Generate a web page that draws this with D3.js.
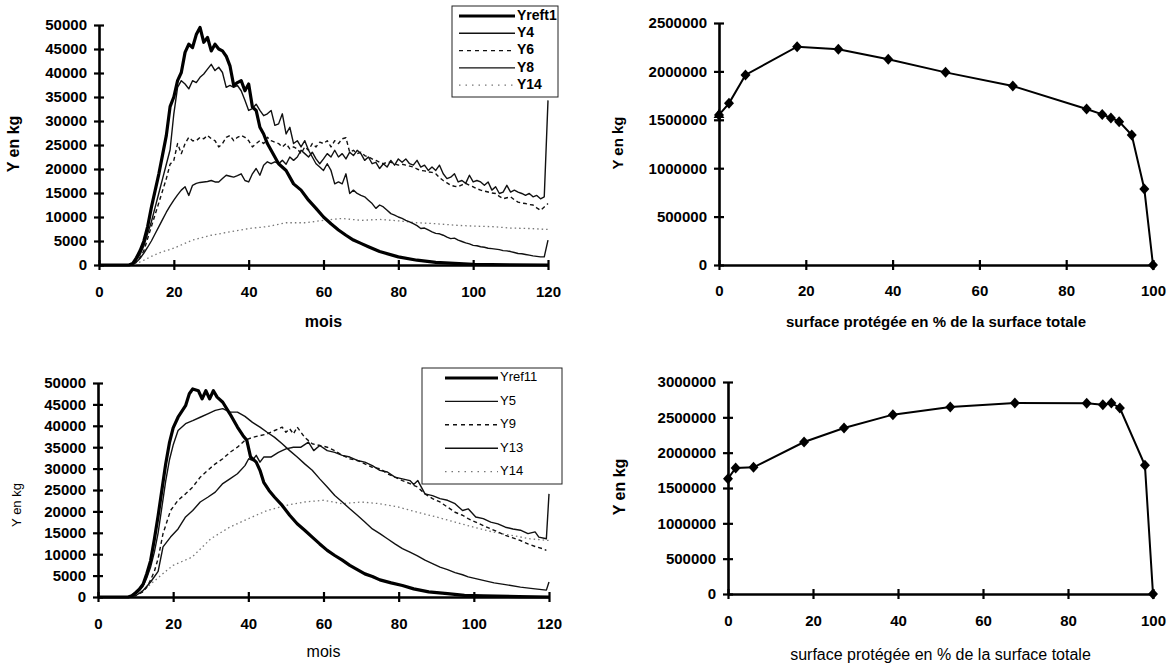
<!DOCTYPE html>
<html lang="fr">
<meta charset="UTF-8">
<style>
    body{ margin:0; background:#fff; }
    svg text{ font-family:'Liberation Sans', Arial, sans-serif; fill:#000; }
    .axis path, .axis line{ stroke:#000; }
    .axis text{ font-size:15px; font-weight:bold; }
</style>
<body>
<div id="chart"></div>
<script src="https://cdn.jsdelivr.net/npm/d3@7"></script>
<script>
    var width = 1172, height = 667;

    // ---- data ----
    var monthTicks = [0, 20, 40, 60, 80, 100, 120];
    var kgTicks = [0, 5000, 10000, 15000, 20000, 25000, 30000, 35000, 40000, 45000, 50000];
    var pctTicks = [0, 20, 40, 60, 80, 100];
    var yTicksTop = [0, 500000, 1000000, 1500000, 2000000, 2500000];
    var yTicksBottom = [0, 500000, 1000000, 1500000, 2000000, 2500000, 3000000];

    var legendTop = ["Yreft1", "Y4", "Y6", "Y8", "Y14"];
    var legendBottom = ["Yref11", "Y5", "Y9", "Y13", "Y14"];

    // top-left panel, [mois, kg]
    var yreft1 = [[0,0],[8,0],[9,300],[10,1500],[11,3000],[12,5000],[13,8000],[14,12000],[15,15500],[16,19000],[17,23000],[18,27000],[19,33000],[20,35000],[21,38400],[22,40100],[23,44300],[24,46000],[25,45300],[26,48000],[27,49500],[28,46400],[29,47400],[30,44600],[31,46000],[32,45000],[33,44600],[34,43500],[35,41500],[36,37400],[37,38000],[38,38400],[39,36300],[40,37700],[41,32900],[42,32200],[43,28700],[44,27300],[45,25300],[46,23900],[47,22500],[48,21100],[50,19700],[52,16900],[54,15600],[56,13500],[58,11800],[60,10000],[62,8600],[64,7300],[66,6200],[68,5200],[70,4500],[72,3800],[75,2800],[80,1700],[85,1000],[90,550],[95,350],[100,150],[110,50],[120,0]];
    var y4 = [[0,0],[8,0],[9,200],[10,1000],[11,2200],[12,4000],[13,6500],[14,9000],[15,12000],[16,15000],[17,18000],[18,21000],[19,24000],[20,31500],[21,37000],[22,38400],[23,37700],[24,36700],[25,38400],[26,38000],[27,39100],[28,39800],[29,40800],[30,41800],[31,40500],[32,41200],[33,40100],[34,37000],[35,37400],[36,37000],[37,37400],[38,36300],[39,34300],[40,32200],[41,32600],[42,33500],[43,32200],[44,31100],[45,31500],[46,32200],[47,29100],[48,29400],[49,31500],[50,27300],[51,28700],[52,25300],[53,25900],[54,24600],[55,25900],[56,23900],[57,22500],[58,21100],[59,20400],[60,19700],[61,21100],[62,19700],[63,16900],[64,17300],[65,16900],[66,19000],[67,14900],[68,15600],[69,14900],[70,14500],[71,14200],[72,13500],[73,12800],[74,11800],[75,12500],[76,12100],[77,11400],[78,10700],[79,10400],[80,10000],[81,9700],[82,9300],[83,9000],[84,8600],[85,8200],[86,7600],[87,7700],[88,7300],[89,6900],[90,6600],[91,6500],[92,6200],[93,5800],[94,5500],[95,5600],[96,5200],[97,4900],[98,4600],[99,4400],[100,4100],[101,4000],[102,3800],[103,3700],[104,3500],[105,3400],[106,3300],[107,3200],[108,3000],[109,2950],[110,2800],[111,2600],[112,2400],[113,2350],[114,2200],[115,2050],[116,1900],[117,1800],[118,1700],[119,1700],[120,5200]];
    var y6 = [[0,0],[8,0],[9,150],[10,700],[11,1600],[12,3000],[13,5500],[14,8000],[15,10500],[16,13000],[17,15500],[18,18000],[19,21000],[20,21800],[21,25300],[22,23200],[23,25300],[24,26600],[25,25900],[26,25900],[27,26600],[28,26300],[29,27000],[30,26300],[31,25900],[32,24600],[33,25300],[34,26600],[35,27000],[36,25900],[37,26600],[38,27000],[39,26600],[40,25900],[41,24600],[42,25300],[43,25900],[44,25300],[45,26600],[46,25900],[47,25600],[48,25300],[49,24600],[50,25300],[51,24200],[52,24600],[53,24200],[54,23200],[55,24600],[56,23900],[57,25300],[58,24600],[59,25600],[60,25300],[61,25900],[62,24600],[63,25900],[64,25300],[65,26300],[66,26500],[67,23500],[68,23900],[69,23200],[70,23500],[71,22800],[72,22500],[73,22100],[74,21800],[75,21400],[76,21100],[77,21400],[78,21400],[79,21100],[80,20800],[81,21000],[82,20800],[83,20600],[84,20400],[85,20000],[86,19700],[87,19600],[88,19400],[89,19300],[90,19000],[91,18200],[92,17600],[93,17100],[94,16600],[95,16400],[96,16300],[97,16700],[98,17000],[99,16600],[100,16300],[101,15900],[102,15600],[103,15400],[104,15200],[105,15000],[106,14900],[107,14300],[108,13800],[109,14000],[110,14200],[111,13600],[112,13100],[113,12900],[114,12800],[115,12600],[116,12500],[117,11900],[118,11400],[119,12100],[120,12800]];
    var y8 = [[0,0],[8,0],[9,150],[10,600],[11,1400],[12,2500],[13,3700],[14,5000],[15,6500],[16,8000],[17,9500],[18,11000],[19,12300],[20,13500],[21,14600],[22,15600],[23,16300],[24,14500],[25,16600],[26,17000],[27,17200],[28,17300],[29,17400],[30,17600],[31,17300],[32,17300],[33,18000],[34,18700],[35,18500],[36,18300],[37,18600],[38,19000],[39,17600],[40,17300],[41,19000],[42,20100],[43,18700],[44,20800],[45,21500],[46,21100],[47,21500],[48,21100],[49,21800],[50,21000],[51,22500],[52,21800],[53,22500],[54,23900],[55,23200],[56,22500],[57,23500],[58,22100],[59,21100],[60,22100],[61,23200],[62,22500],[63,23900],[64,22500],[65,23200],[66,22100],[67,23500],[68,22800],[69,23900],[70,23200],[71,21800],[72,22500],[73,21100],[74,21400],[75,20100],[76,21100],[77,20400],[78,21800],[79,20800],[80,22100],[81,21400],[82,22100],[83,21100],[84,20800],[85,21800],[86,20400],[87,20800],[88,19700],[89,20400],[90,19700],[91,20800],[92,19000],[93,18000],[94,18300],[95,19000],[96,17300],[97,17600],[98,17000],[99,18700],[100,17300],[101,17600],[102,17300],[103,16600],[104,17300],[105,15600],[106,16300],[107,14900],[108,15200],[109,16600],[110,15200],[111,15600],[112,15200],[113,14900],[114,14500],[115,14900],[116,14200],[117,14500],[118,13800],[119,14200],[120,34300]];
    var y14a = [[0,0],[8,0],[10,300],[12,1000],[14,1800],[16,2500],[18,3000],[20,3500],[25,5200],[30,6200],[35,6900],[40,7600],[45,8000],[50,8800],[55,8800],[60,9300],[65,9700],[70,9300],[75,9500],[80,9200],[85,8800],[90,8600],[95,8300],[100,8100],[105,8000],[110,7700],[115,7600],[120,7400]];

    // bottom-left panel, [mois, kg]
    var yref11 = [[0,0],[8,0],[9,300],[10,1000],[11,1800],[12,3000],[13,5500],[14,8500],[15,13500],[16,19000],[17,25000],[18,31000],[19,36000],[20,39500],[21.3,42000],[23.3,44700],[24.3,47500],[25.2,48600],[26.7,48200],[27.7,46300],[28.7,48200],[29.7,46300],[30.7,48200],[31.7,46700],[33.2,45500],[35.1,42800],[37.1,39700],[38.6,37700],[39.6,36600],[40.6,32700],[42.1,31500],[43.1,29600],[44.1,26800],[45.5,24900],[47,23300],[49,21400],[51,19100],[53,17100],[55,15600],[57,14000],[59,12400],[61,10900],[63,9700],[65,8600],[67,7400],[69,6400],[71,5400],[73,4800],[75,4000],[78,3300],[81,2700],[84,1900],[88,1200],[93,800],[97.5,400],[102.5,250],[112,100],[120,0]];
    var y5 = [[0,0],[8,0],[9,200],[10,700],[11,1500],[12,2500],[13,4500],[14,7000],[15,10500],[16,15000],[17,21000],[18,27000],[19,32000],[20,35500],[21.3,38900],[23.3,40500],[25.2,41200],[27.2,42000],[29.2,42800],[31.2,43600],[33.2,44000],[35.1,43200],[37.1,43200],[39.1,42200],[41.1,40800],[43.1,39700],[45,38500],[47,37300],[49,35800],[51,34200],[53,32700],[55,31100],[57,29600],[59,27600],[61,25700],[63,23700],[65,22200],[67,20600],[69,19100],[71,17500],[73,15900],[75,14800],[77,13600],[79,12400],[81,11300],[83,10500],[85,9600],[87,8600],[89,7800],[91,7000],[93,6400],[95,5700],[97,5200],[98.5,4700],[100.5,4300],[102.5,3900],[105.4,3300],[108.4,2900],[112.4,2300],[116.3,1900],[119.3,1600],[120,3500]];
    var y9 = [[0,0],[8,0],[10,300],[12,1200],[13,2300],[14,4000],[15,6000],[16,9000],[17.3,14800],[19.3,20200],[21.3,22600],[23.3,24100],[25.2,25700],[27.2,28000],[29.2,29600],[31.2,31100],[33.2,32300],[35.1,33800],[37.1,35000],[39.1,36600],[41.1,37300],[43.1,37700],[45,38100],[47,38900],[49,39700],[50,38500],[51,39300],[52,38100],[53,39700],[55,37300],[57,35800],[59,35400],[61,35000],[63,34200],[65,33100],[67,32300],[69,31900],[71,31100],[73,30300],[75,30000],[77,28800],[79,28000],[81,27200],[83,26500],[85,25700],[87,24100],[89,23000],[91,22200],[93,21000],[95,19800],[97,19100],[98.5,18300],[100.5,17500],[102.5,16700],[104.5,15900],[106.4,15200],[108.4,14400],[110.4,13800],[112.4,13200],[114.4,12400],[116.3,11800],[118.3,11300],[119.3,10900]];
    var y13 = [[0,0],[8,0],[10,300],[12,1500],[14,3500],[16,6000],[17.3,11700],[19.3,14000],[21.3,15900],[23.3,18700],[25.2,20200],[27.2,22200],[29.2,23300],[31.2,24500],[33.2,26500],[35.1,27600],[37.1,28800],[39.1,30700],[40.1,32300],[41.1,31900],[42.1,33100],[43.1,31500],[44.1,32700],[46,32700],[48,33800],[50,34600],[52,35000],[54,35000],[56,36200],[57.4,34200],[59,35400],[61,34200],[63,33800],[65,33100],[67,32700],[69,31900],[71,31500],[73,30700],[75,29600],[77,29200],[79,28000],[81,27600],[83,27200],[84,26300],[85.1,27200],[87,24100],[89,23700],[91,23000],[93,22600],[95,21800],[97,20200],[98.5,20600],[100.5,18700],[102.5,18300],[104.5,17500],[106.4,17100],[108.4,16300],[110.4,15900],[112.4,15600],[114.4,14800],[116.3,15200],[117.3,14000],[119.3,13600],[120,24100]];
    var y14b = [[0,0],[8,0],[10,500],[12,1500],[14,3000],[16,4500],[18,6000],[20,7400],[25,9300],[30,13600],[35,16300],[40,18300],[45,20200],[50,21400],[55,22200],[60,22600],[65,21800],[70,22200],[75,21800],[80,21000],[85,19800],[90,18700],[95,17500],[100,16300],[105,15200],[110,14400],[115,13600],[120,13200]];

    // right panels: surface protégée (%) and Y (kg)
    var pctTop = [0, 2.3, 6.1, 18.0, 27.5, 39.0, 52.2, 67.7, 84.7, 88.3, 90.3, 92.2, 95.1, 98.0, 100];
    var yTop = [1550000, 1670000, 1963000, 2255000, 2228000, 2125000, 1990000, 1849000, 1612000, 1556000, 1519000, 1481000, 1343000, 785000, 0];
    var pctBottom = [0, 1.8, 6.0, 17.9, 27.3, 38.8, 52.3, 67.5, 84.4, 88.2, 90.2, 92.2, 98.1, 100];
    var yBottom = [1632000, 1783000, 1792000, 2151000, 2349000, 2538000, 2646000, 2703000, 2698000, 2679000, 2703000, 2632000, 1821000, 0];

    var svg = d3.select("#chart").append("svg")
        .attr("width", width)
        .attr("height", height);

    // line styles, in legend order
    var styles = [
        {w: 3.2, dash: null, color: "#000"},
        {w: 1.4, dash: null, color: "#111"},
        {w: 1.4, dash: "4,3", color: "#111"},
        {w: 1.4, dash: null, color: "#111"},
        {w: 1.3, dash: "1.5,3", color: "#777"}
    ];

    function crossTicks(g, horizontal) {
        g.select(".domain").attr("stroke-width", 2.6);
        g.selectAll(".tick line").attr("stroke-width", 2.2)
            .each(function(){
                if (horizontal) d3.select(this).attr("y1", -5).attr("y2", 5);
                else d3.select(this).attr("x1", 5).attr("x2", -5);
            });
    }

    function drawAxes(p) {
        var g = svg.append("g");
        var gx = g.append("g").attr("class", "axis")
            .attr("transform", "translate(0," + p.y.range()[0] + ")")
            .call(d3.axisBottom(p.x).tickValues(p.xTicks).tickSizeInner(5).tickSizeOuter(0).tickPadding(p.xPad));
        crossTicks(gx, true);
        var gy = g.append("g").attr("class", "axis")
            .attr("transform", "translate(" + p.x.range()[0] + ",0)")
            .call(d3.axisLeft(p.y).tickValues(p.yTicks).tickSizeInner(5).tickSizeOuter(0).tickPadding(7).tickFormat(d3.format("d")));
        crossTicks(gy, false);
        g.selectAll(".axis text").attr("fill", "#000");

        g.append("text")
            .attr("x", d3.mean(p.x.range()))
            .attr("y", p.xTitleY)
            .attr("text-anchor", "middle")
            .attr("dominant-baseline", "middle")
            .style("font-size", p.xTitleSize + "px")
            .style("font-weight", p.xTitleBold ? "bold" : "normal")
            .text(p.xTitle);

        g.append("text")
            .attr("transform", "translate(" + p.yTitleX + "," + p.yTitleY + ") rotate(-90)")
            .attr("text-anchor", "middle")
            .attr("dominant-baseline", "middle")
            .style("font-size", p.yTitleSize + "px")
            .style("font-weight", p.yTitleBold ? "bold" : "normal")
            .text("Y en kg");
    }

    function timePanel(p) {
        p.x = d3.scaleLinear().domain([0, 120]).range([p.x0, p.x1]);
        p.y = d3.scaleLinear().domain([0, 50000]).range([p.y0, p.y1]);
        p.xTicks = monthTicks;
        p.yTicks = kgTicks;
        p.xTitle = "mois";
        drawAxes(p);

        var line = d3.line()
            .x(function(d){ return p.x(d[0]); })
            .y(function(d){ return p.y(d[1]); });

        // draw the dotted one first, the thick reference last
        [4, 3, 2, 1, 0].forEach(function(i){
            svg.append("path")
                .datum(p.series[i])
                .attr("fill", "none")
                .attr("stroke", styles[i].color)
                .attr("stroke-width", styles[i].w)
                .attr("stroke-dasharray", styles[i].dash)
                .attr("stroke-linejoin", "round")
                .attr("d", line);
        });

        // legend
        var lg = svg.append("g");
        lg.append("rect")
            .attr("x", p.lx).attr("y", p.ly)
            .attr("width", p.lw).attr("height", p.lh)
            .attr("fill", "#fff")
            .attr("stroke", "#222")
            .attr("stroke-width", 1);
        var item = lg.selectAll("g.item")
            .data(p.labels)
            .enter().append("g")
            .attr("class", "item")
            .attr("transform", function(d, i){ return "translate(0," + (p.ly + p.lfirst + p.lstep * i) + ")"; });
        item.append("line")
            .attr("x1", p.lineX0).attr("x2", p.lineX1)
            .attr("stroke", function(d, i){ return styles[i].color; })
            .attr("stroke-width", function(d, i){ return styles[i].w; })
            .attr("stroke-dasharray", function(d, i){ return styles[i].dash ? (i == 4 ? "1.5,5" : "4,4") : null; });
        item.append("text")
            .attr("x", p.lineX1 + 2)
            .attr("dominant-baseline", "middle")
            .style("font-size", p.lfont + "px")
            .style("font-weight", p.lbold ? "bold" : "normal")
            .text(function(d){ return d; });
    }

    function surfacePanel(p) {
        p.x = d3.scaleLinear().domain([0, 100]).range([p.x0, p.x1]);
        p.y = d3.scaleLinear().domain([0, p.yMax]).range([p.y0, p.y1]);
        p.xTicks = pctTicks;
        p.xTitle = "surface protégée en % de la surface totale";
        drawAxes(p);

        var pts = p.pct.map(function(d, i){ return [d, p.vals[i]]; });
        var line = d3.line()
            .x(function(d){ return p.x(d[0]); })
            .y(function(d){ return p.y(d[1]); });
        svg.append("path")
            .datum(pts)
            .attr("fill", "none")
            .attr("stroke", "#000")
            .attr("stroke-width", 2)
            .attr("d", line);
        svg.selectAll(null)
            .data(pts)
            .enter().append("path")
            .attr("transform", function(d){ return "translate(" + p.x(d[0]) + "," + p.y(d[1]) + ")"; })
            .attr("d", "M0,-5.5L5,0L0,5.5L-5,0Z")
            .attr("fill", "#000");
        if (p.triangle) {
            svg.append("path")
                .attr("transform", "translate(" + p.x(pts[0][0]) + "," + p.y(pts[0][1]) + ")")
                .attr("d", d3.symbol().type(d3.symbolTriangle).size(50))
                .attr("fill", "#000");
        }
    }

    timePanel({
        x0: 99, x1: 548, y0: 265, y1: 25, xPad: 16,
        xTitleY: 323, xTitleSize: 16, xTitleBold: true,
        yTitleX: 15, yTitleY: 144, yTitleSize: 16, yTitleBold: true,
        series: [yreft1, y4, y6, y8, y14a], labels: legendTop,
        lx: 452, ly: 6, lw: 106, lh: 91, lfirst: 10, lstep: 17.3,
        lineX0: 459, lineX1: 515, lfont: 14, lbold: true
    });

    timePanel({
        x0: 98, x1: 549, y0: 597, y1: 383, xPad: 16,
        xTitleY: 653, xTitleSize: 16, xTitleBold: false,
        yTitleX: 18, yTitleY: 505, yTitleSize: 13, yTitleBold: false,
        series: [yref11, y5, y9, y13, y14b], labels: legendBottom,
        lx: 422, ly: 368, lw: 140, lh: 116, lfirst: 10, lstep: 23.4,
        lineX0: 445, lineX1: 498, lfont: 13, lbold: false
    });

    surfacePanel({
        x0: 719, x1: 1153, y0: 265, y1: 23, yMax: 2500000, yTicks: yTicksTop, xPad: 15,
        xTitleY: 323, xTitleSize: 15, xTitleBold: true,
        yTitleX: 619, yTitleY: 143, yTitleSize: 15, yTitleBold: true,
        pct: pctTop, vals: yTop, triangle: true
    });

    surfacePanel({
        x0: 728, x1: 1153, y0: 594, y1: 382, yMax: 3000000, yTicks: yTicksBottom, xPad: 16,
        xTitleY: 656, xTitleSize: 16, xTitleBold: false,
        yTitleX: 621, yTitleY: 487, yTitleSize: 16, yTitleBold: true,
        pct: pctBottom, vals: yBottom, triangle: false
    });
</script>
</body>
</html>
